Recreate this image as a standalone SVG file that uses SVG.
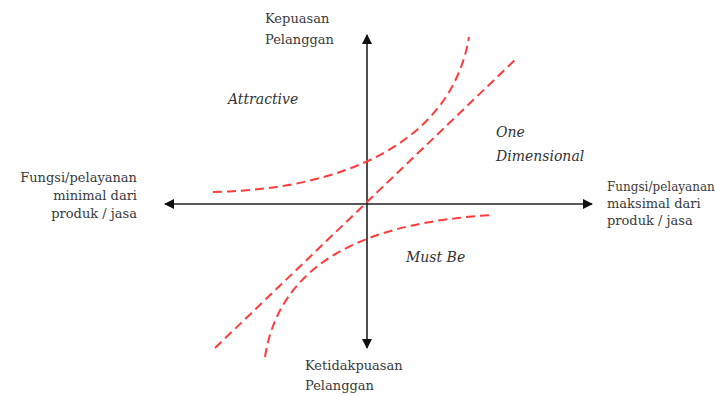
<svg xmlns="http://www.w3.org/2000/svg" width="715" height="396" viewBox="0 0 715 396">
<style>
text{font-family:"DejaVu Serif","Liberation Serif",serif;}
.lbl{font-size:13px;fill:#3a3a3a;}
.it{font-size:14px;font-style:italic;fill:#333;}
.axis{stroke:#222;stroke-width:1.6;fill:none;}
.curve{stroke:#ff3b3b;stroke-width:2;fill:none;stroke-dasharray:9,5;}
</style>
<defs>
<marker id="ah" viewBox="0 0 10 10" refX="9" refY="5" markerWidth="10" markerHeight="10" markerUnits="userSpaceOnUse" orient="auto">
<path d="M0,0 L10,5 L0,10 z" fill="#111"/>
</marker>
</defs>
<rect width="715" height="396" fill="#fff"/>
<g id="connectors">
<line class="axis" x1="367" y1="204" x2="592" y2="204" marker-end="url(#ah)"/>
<line class="axis" x1="367" y1="204" x2="165" y2="204" marker-end="url(#ah)"/>
<line class="axis" x1="367" y1="204" x2="367" y2="35" marker-end="url(#ah)"/>
<line class="axis" x1="367" y1="204" x2="367" y2="348" marker-end="url(#ah)"/>
<path id="attractive-curve" class="curve" d="M213,192 C330,190 450,150 469,37"/>
<path id="one-dimensional-line" class="curve" d="M215,348 L518,57"/>
<path id="must-be-curve" class="curve" d="M265,357 C280,260 370,222 493,215"/>
</g>
<g id="top-label"><text class="lbl" x="265" y="23">Kepuasan</text><text class="lbl" x="265" y="44">Pelanggan</text></g>
<g id="bottom-label"><text class="lbl" x="305" y="370">Ketidakpuasan</text><text class="lbl" x="305" y="390">Pelanggan</text></g>
<g id="left-label" text-anchor="end"><text class="lbl" x="137" y="182">Fungsi/pelayanan</text><text class="lbl" x="137" y="200">minimal dari</text><text class="lbl" x="137" y="218">produk / jasa</text></g>
<g id="right-label"><text class="lbl" x="607" y="191" style="font-size:12px">Fungsi/pelayanan</text><text class="lbl" x="607" y="208">maksimal dari</text><text class="lbl" x="607" y="225">produk / jasa</text></g>
<g id="attractive"><text class="it" x="228" y="104">Attractive</text></g>
<g id="one-dimensional"><text class="it" x="496" y="137">One</text><text class="it" x="496" y="161">Dimensional</text></g>
<g id="must-be"><text class="it" x="406" y="262">Must Be</text></g>
</svg>
